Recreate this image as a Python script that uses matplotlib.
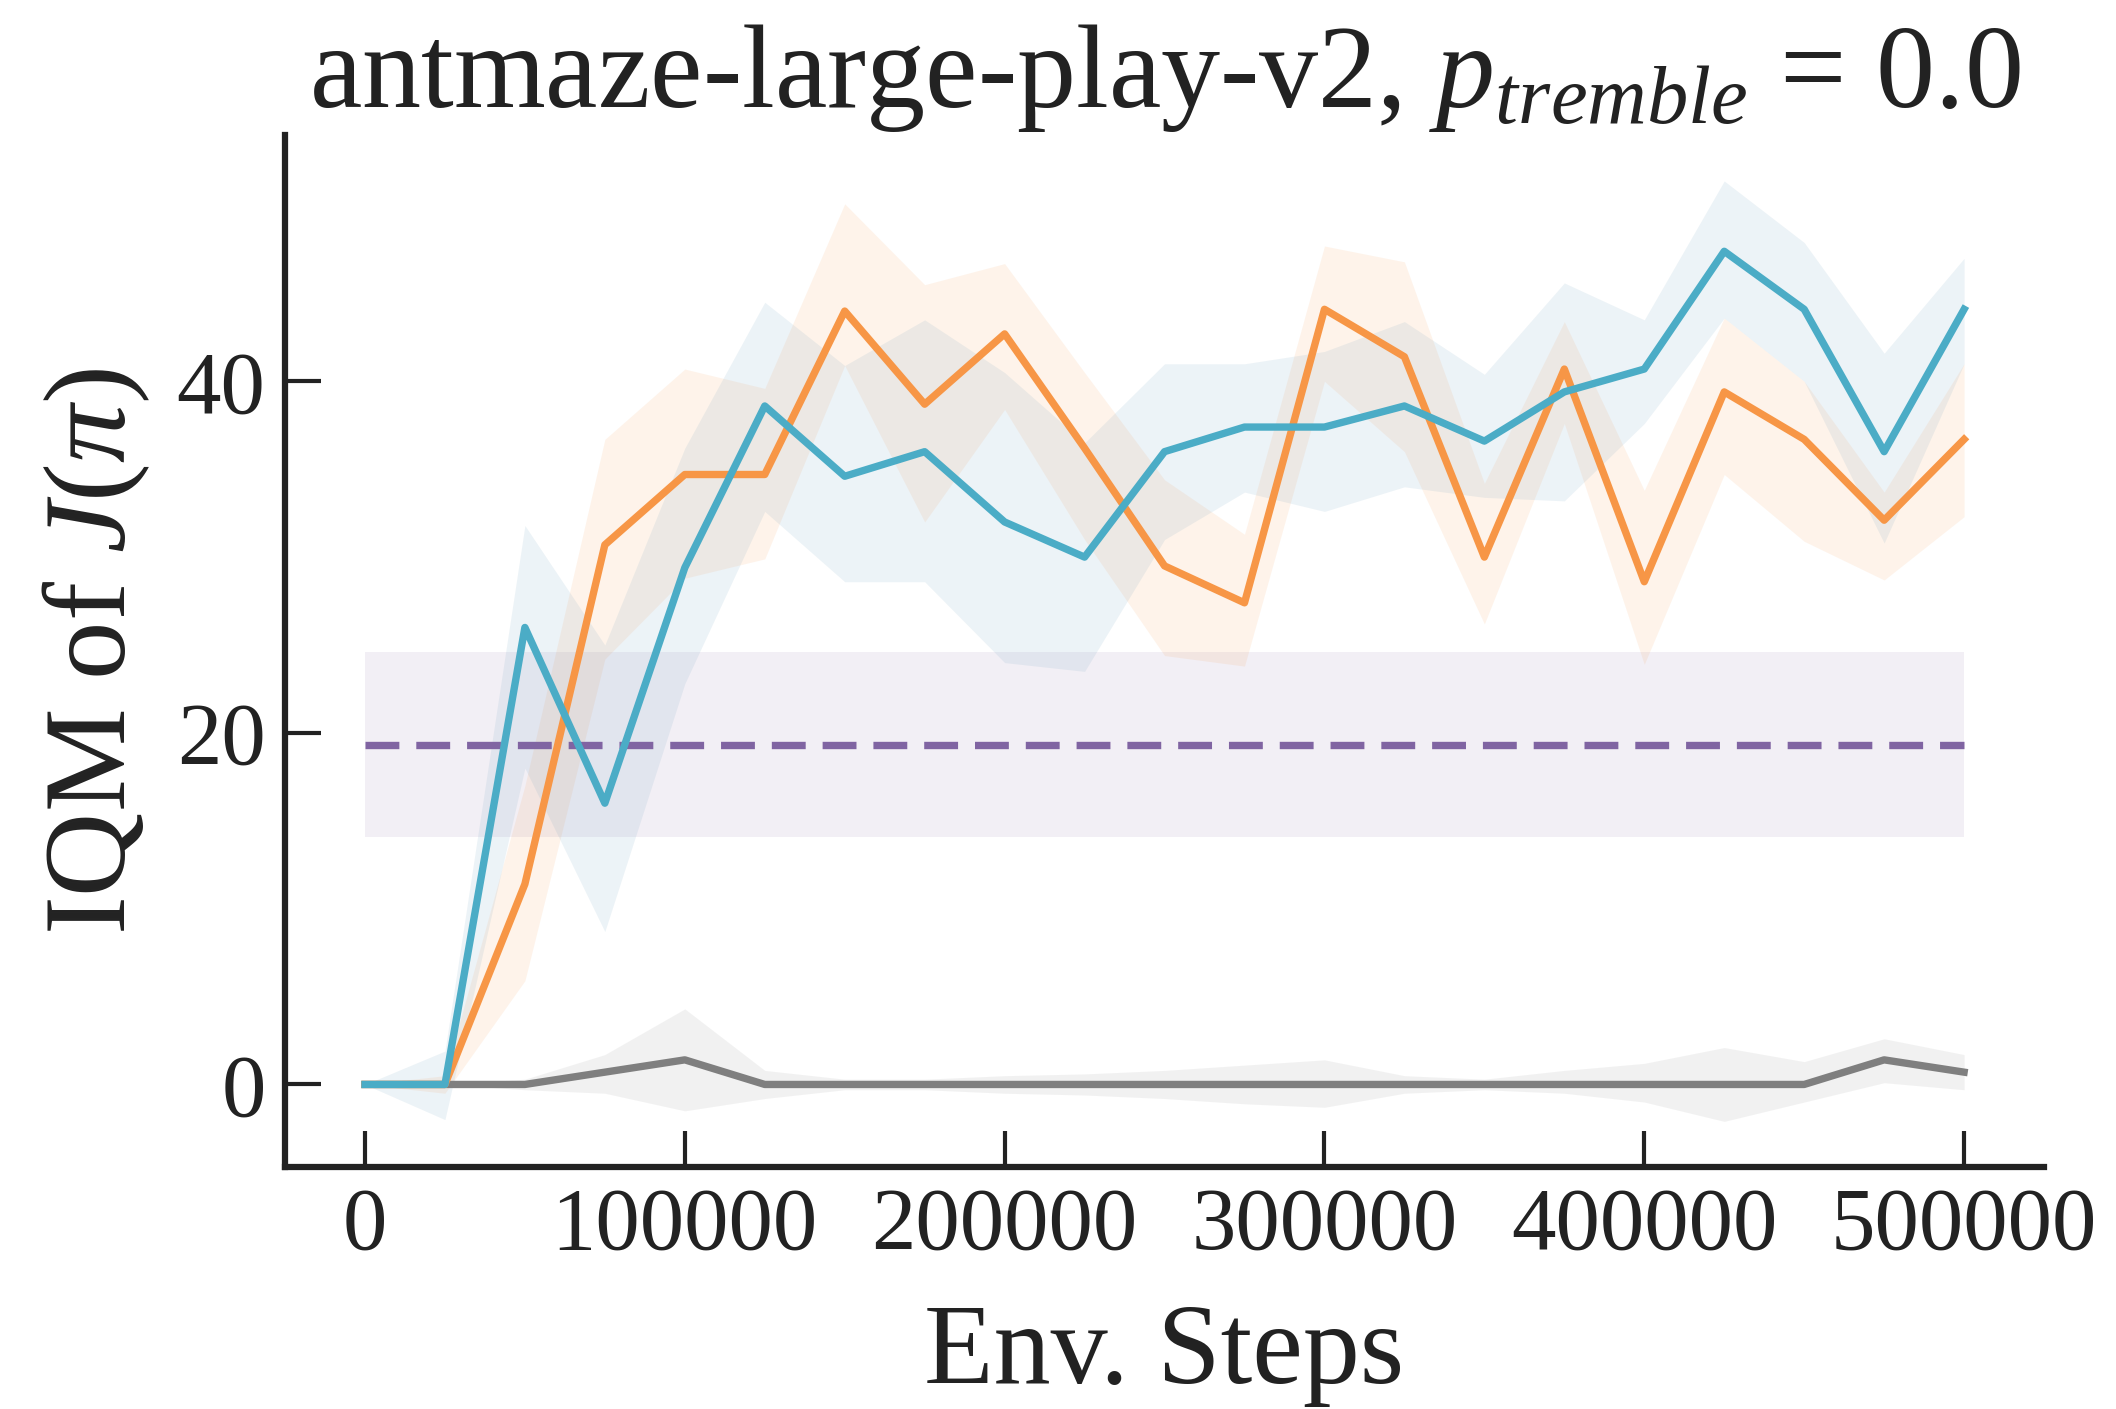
import matplotlib
matplotlib.use("Agg")
import matplotlib.pyplot as plt

# --- Dados ---------------------------------------
steps = [0, 25000, 50000, 75000, 100000, 125000, 150000, 175000, 200000,
         225000, 250000, 275000, 300000, 325000, 350000, 375000, 400000,
         425000, 450000, 475000, 500000]

blue_mean = [0, 0, 26.0, 16.0, 29.4, 38.6, 34.6, 36.0, 32.0, 30.0, 36.0,
             37.4, 37.4, 38.6, 36.6, 39.4, 40.7, 47.4, 44.1, 36.0, 44.1]
blue_lo = [0, -2.0, 18.0, 8.7, 22.8, 32.6, 28.6, 28.6, 24.0, 23.5, 31.0,
           33.7, 32.6, 34.0, 33.4, 33.2, 37.6, 43.6, 40.0, 30.8, 41.0]
blue_hi = [0, 1.9, 31.8, 25.0, 36.2, 44.5, 40.9, 43.5, 40.5, 36.5, 41.0,
           41.0, 41.7, 43.4, 40.4, 45.6, 43.5, 51.4, 47.9, 41.6, 47.0]

orange_mean = [0, 0, 11.4, 30.7, 34.7, 34.7, 44.0, 38.7, 42.7, 36.2, 29.5,
               27.4, 44.1, 41.4, 30.0, 40.7, 28.6, 39.4, 36.7, 32.1, 36.7]
orange_lo = [0, -0.5, 5.9, 24.2, 28.8, 29.9, 40.9, 32.0, 38.4, 31.0, 24.4,
             23.8, 40.0, 36.0, 26.2, 37.6, 23.9, 34.7, 30.9, 28.7, 32.3]
orange_hi = [0, 0.5, 17.0, 36.7, 40.7, 39.6, 50.1, 45.5, 46.7, 40.5, 34.4,
             31.3, 47.7, 46.8, 34.2, 43.4, 33.8, 43.6, 40.0, 33.7, 41.0]

gray_mean = [0, 0, 0, 0.7, 1.4, 0, 0, 0, 0, 0, 0,
             0, 0, 0, 0, 0, 0, 0, 0, 1.4, 0.7]
gray_lo = [0, 0, -0.3, -0.5, -1.5, -0.8, -0.3, -0.3, -0.5, -0.6, -0.8,
           -1.1, -1.3, -0.5, -0.3, -0.5, -1.0, -2.1, -1.0, 0.1, -0.3]
gray_hi = [0, 0, 0.3, 1.7, 4.3, 0.8, 0.3, 0.3, 0.5, 0.6, 0.8,
           1.1, 1.4, 0.5, 0.3, 0.8, 1.2, 2.1, 1.3, 2.6, 1.7]

baseline_x = [0, 500000]
baseline_mean = 19.3
baseline_lo = 14.1
baseline_hi = 24.6

# --- Estilo ----------------------
BLUE = "#4bacc6"
ORANGE = "#f79646"
PURPLE = "#8064a2"
GRAY = "#7f7f7f"
INK = "#222222"

plt.rcParams["font.family"] = ["Liberation Serif", "DejaVu Serif"]
plt.rcParams["mathtext.fontset"] = "custom"
plt.rcParams["mathtext.rm"] = "Liberation Serif"
plt.rcParams["mathtext.it"] = "Liberation Serif:italic"

fig = plt.figure(figsize=(21.16, 14.09), dpi=100)
ax = fig.add_axes([0.1347, 0.1717, 0.8313, 0.7323])

lw = 5.3

# faixa e linha de referência (tracejada)
ax.fill_between(baseline_x, [baseline_lo] * 2, [baseline_hi] * 2,
                color=PURPLE, alpha=0.1, linewidth=0)
ax.plot(baseline_x, [baseline_mean] * 2, color=PURPLE, lw=lw,
        dashes=(4.6, 2.3))

ax.fill_between(steps, gray_lo, gray_hi, color=GRAY, alpha=0.1, linewidth=0)
ax.fill_between(steps, orange_lo, orange_hi, color=ORANGE, alpha=0.11, linewidth=0)
ax.fill_between(steps, blue_lo, blue_hi, color="#6a9fbf", alpha=0.12, linewidth=0)

ax.plot(steps, gray_mean, color=GRAY, lw=lw)
ax.plot(steps, orange_mean, color=ORANGE, lw=lw)
ax.plot(steps, blue_mean, color=BLUE, lw=lw)

ax.set_xlim(-25000, 525000)
ax.set_ylim(-4.7, 54)
ax.set_xticks([0, 100000, 200000, 300000, 400000, 500000])
ax.set_yticks([0, 20, 40])

for side in ["top", "right"]:
    ax.spines[side].set_visible(False)
for side in ["left", "bottom"]:
    ax.spines[side].set_linewidth(4.5)
    ax.spines[side].set_color(INK)

ax.tick_params(direction="in", length=26, width=3, color=INK,
               labelsize=64, pad=14, labelcolor=INK)

ax.set_xlabel("Env. Steps", fontsize=82, color=INK, labelpad=26)
ax.set_ylabel(r"IQM of $J(\pi)$", fontsize=84, color=INK, labelpad=18)
ax.set_title(r"antmaze-large-play-v2, $p_{tremble}$ = 0.0", fontsize=85,
             color=INK, pad=20)

fig.savefig("out.png", dpi=100)
